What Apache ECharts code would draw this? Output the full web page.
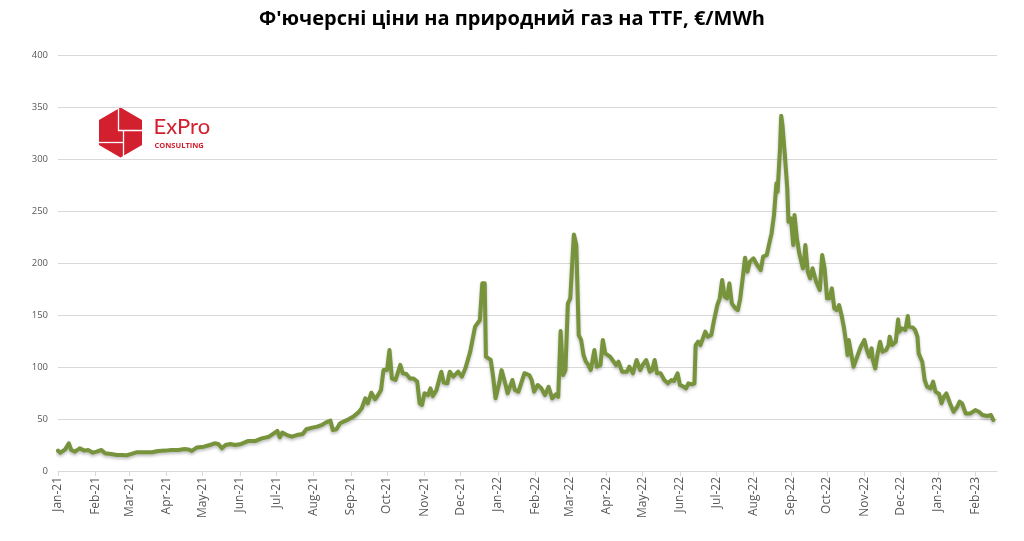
<!DOCTYPE html>
<html>
<head>
<meta charset="utf-8">
<script src="https://cdn.jsdelivr.net/npm/echarts@6/dist/echarts.min.js"></script>
<style>
html,body{margin:0;padding:0;background:#fff;}
#chart{width:1024px;height:541px;}
</style>
</head>
<body>
<div id="chart"></div>
<script>
const chartTitle = "Ф'ючерсні ціни на природний газ на TTF, €/MWh";
const monthNames = ['Jan','Feb','Mar','Apr','May','Jun','Jul','Aug','Sep','Oct','Nov','Dec'];
const yTicks = [0, 50, 100, 150, 200, 250, 300, 350, 400];

const dates2021 = [
'2021-01-01','2021-01-03','2021-01-07','2021-01-10','2021-01-12','2021-01-15','2021-01-19','2021-01-23','2021-01-26','2021-01-30',
'2021-02-02','2021-02-06','2021-02-09','2021-02-14','2021-02-19','2021-02-23','2021-02-27',
'2021-03-03','2021-03-07','2021-03-14','2021-03-20','2021-03-25','2021-03-31',
'2021-04-05','2021-04-11','2021-04-16','2021-04-19','2021-04-22','2021-04-26',
'2021-05-02','2021-05-07','2021-05-11','2021-05-14','2021-05-17','2021-05-20','2021-05-24','2021-05-28',
'2021-06-02','2021-06-08','2021-06-14','2021-06-19','2021-06-25','2021-06-29',
'2021-07-02','2021-07-04','2021-07-06','2021-07-10','2021-07-14','2021-07-18','2021-07-23','2021-07-26','2021-07-31',
'2021-08-04','2021-08-08','2021-08-11','2021-08-15','2021-08-17','2021-08-20','2021-08-23','2021-08-29',
'2021-09-03','2021-09-07','2021-09-10','2021-09-13','2021-09-15','2021-09-18','2021-09-21','2021-09-23','2021-09-26','2021-09-28',
'2021-10-01','2021-10-03','2021-10-05','2021-10-08','2021-10-12','2021-10-14','2021-10-17','2021-10-20','2021-10-23','2021-10-26','2021-10-28','2021-10-30',
'2021-11-01','2021-11-04','2021-11-06','2021-11-08','2021-11-11','2021-11-15','2021-11-17','2021-11-20','2021-11-22','2021-11-25','2021-11-29',
'2021-12-02','2021-12-05','2021-12-09','2021-12-13','2021-12-15','2021-12-17','2021-12-19','2021-12-21','2021-12-22','2021-12-26','2021-12-28','2021-12-30'
];
const prices2021 = [
19.6,17.6,20.8,26.6,20.2,18.6,21.8,19.6,20.2,17.6,
18.6,20.2,17.0,16.4,15.4,15.4,15.1,
16.4,18.0,18.0,18.0,19.3,19.6,
20.2,20.2,21.2,20.8,19.3,22.5,
23.4,25.0,26.6,26.0,21.8,25.0,26.0,25.0,
26.0,28.9,28.9,31.4,33.0,36.2,
38.5,32.4,36.9,34.6,33.0,34.6,35.6,40.1,41.7,
42.7,44.3,46.5,48.4,39.4,40.1,45.9,49.1,
52.3,56.1,60.3,69.9,65.1,75.3,68.9,72.1,77.9,97.0,
97.0,116.4,89.0,87.5,102.0,94.0,93.3,89.0,89.0,86.0,65.0,63.5,
74.7,73.0,79.5,72.0,78.0,95.5,85.0,84.3,95.5,90.7,95.5,
90.7,98.8,114.8,138.8,142.0,145.0,180.5,180.5,110.0,106.8,90.7,70.0
];

const dates2022 = [
'2022-01-02','2022-01-04','2022-01-07','2022-01-09','2022-01-13','2022-01-15','2022-01-18','2022-01-23','2022-01-27','2022-01-29','2022-01-31',
'2022-02-03','2022-02-06','2022-02-09','2022-02-12','2022-02-15','2022-02-18','2022-02-20','2022-02-22','2022-02-24','2022-02-26','2022-02-28',
'2022-03-02','2022-03-04','2022-03-05','2022-03-07','2022-03-09','2022-03-11','2022-03-13','2022-03-15','2022-03-17','2022-03-19','2022-03-22','2022-03-24','2022-03-27','2022-03-29','2022-03-31',
'2022-04-04','2022-04-09','2022-04-11','2022-04-14','2022-04-18','2022-04-20','2022-04-23','2022-04-26','2022-04-29',
'2022-05-01','2022-05-04','2022-05-07','2022-05-09','2022-05-11','2022-05-13','2022-05-16','2022-05-19','2022-05-22','2022-05-25','2022-05-27','2022-05-30',
'2022-06-01','2022-06-04','2022-06-06','2022-06-08','2022-06-11','2022-06-13','2022-06-14','2022-06-16','2022-06-18','2022-06-20','2022-06-22','2022-06-24','2022-06-27','2022-06-29',
'2022-07-02','2022-07-04','2022-07-06','2022-07-08','2022-07-10','2022-07-12','2022-07-14','2022-07-17','2022-07-19','2022-07-21','2022-07-23','2022-07-25','2022-07-27','2022-07-29',
'2022-08-01','2022-08-04','2022-08-07','2022-08-09','2022-08-12','2022-08-15','2022-08-16','2022-08-18','2022-08-20','2022-08-21','2022-08-23','2022-08-24','2022-08-25','2022-08-27','2022-08-29','2022-08-30',
'2022-09-01','2022-09-03','2022-09-04','2022-09-06','2022-09-08','2022-09-09','2022-09-11','2022-09-12','2022-09-13','2022-09-15','2022-09-17','2022-09-19','2022-09-22','2022-09-25','2022-09-27','2022-09-29',
'2022-10-01','2022-10-03','2022-10-05','2022-10-07','2022-10-09','2022-10-11','2022-10-13','2022-10-15','2022-10-17','2022-10-18','2022-10-19','2022-10-21','2022-10-23','2022-10-26','2022-10-29',
'2022-11-01','2022-11-03','2022-11-05','2022-11-07','2022-11-08','2022-11-10','2022-11-12','2022-11-14','2022-11-16','2022-11-19','2022-11-21','2022-11-22','2022-11-24','2022-11-27','2022-11-29','2022-11-30',
'2022-12-02','2022-12-05','2022-12-07','2022-12-08','2022-12-11','2022-12-13','2022-12-15','2022-12-16','2022-12-19','2022-12-21','2022-12-23','2022-12-26','2022-12-28','2022-12-30'
];
const prices2022 = [
84.3,97.0,84.3,74.7,87.5,78.0,76.3,94.0,92.3,87.5,76.3,
82.7,79.5,73.0,81.0,69.8,73.7,71.4,134.6,92.3,97.1,161.2,
166.0,207.7,227.5,217.3,130.7,126.0,111.5,105.1,101.9,97.1,116.3,100.3,101.9,126.0,113.1,
110.0,101.9,105.1,95.5,95.5,100.3,93.9,106.7,97.1,
101.9,106.7,95.5,97.1,106.7,93.9,93.9,87.5,84.3,87.5,86.5,93.9,
82.7,81.1,79.5,84.3,83.3,84.3,121.0,124.3,121.1,127.5,134.0,129.2,130.8,143.6,
159.6,166.0,183.6,167.6,166.0,180.4,161.2,156.4,154.8,166.0,185.2,205.1,191.7,201.3,
204.5,198.1,193.2,206.1,207.7,223.7,228.5,246.1,276.6,268.6,310.2,341.6,332.7,303.8,271.8,239.7,
242.9,217.3,246.1,223.7,209.3,204.5,194.9,201.3,217.3,191.7,185.2,194.9,182.0,174.0,207.7,194.9,
166.0,166.0,175.6,156.4,154.8,159.6,150.0,138.0,122.0,111.5,126.0,113.1,100.3,110.0,119.5,
126.0,116.3,110.0,117.9,106.7,98.7,113.1,124.3,114.7,116.3,121.1,129.2,121.1,124.3,145.8,134.0,
137.2,135.6,149.0,138.8,138.1,135.6,129.2,113.1,105.1,87.5,81.1,79.5,85.9,76.3
];

const dates2023 = [
'2023-01-02','2023-01-04','2023-01-06','2023-01-08','2023-01-11','2023-01-14','2023-01-17','2023-01-19','2023-01-21','2023-01-24','2023-01-28',
'2023-02-01','2023-02-04','2023-02-07','2023-02-11','2023-02-14','2023-02-16'
];
const prices2023 = [
74.0,65.1,71.5,74.7,65.1,57.0,61.8,66.7,65.1,55.4,55.4,
58.6,57.0,53.8,52.9,53.8,49.0
];

const allDates = dates2021.concat(dates2022, dates2023);
const allPrices = prices2021.concat(prices2022, prices2023);
const seriesData = allDates.map((d, i) => [d, allPrices[i]]);

const red = '#d2202f';
const chart = echarts.init(document.getElementById('chart'), null, {renderer: 'canvas'});
chart.setOption({
  animation: false,
  backgroundColor: '#ffffff',
  textStyle: {fontFamily: 'Open Sans'},
  title: {
    text: chartTitle,
    left: 'center',
    top: 4,
    textStyle: {fontFamily: 'Open Sans', fontWeight: 'bold', fontSize: 20, color: '#000000'}
  },
  grid: {left: 58, right: 27, top: 55, bottom: 70, containLabel: false},
  xAxis: {
    type: 'time',
    min: '2021-01-01',
    max: '2023-02-19',
    minInterval: 28 * 86400000,
    maxInterval: 31 * 86400000,
    axisLine: {show: true, lineStyle: {color: '#d9d9d9', width: 1}},
    axisTick: {show: true, length: 5, lineStyle: {color: '#d9d9d9'}},
    splitLine: {show: false},
    axisLabel: {
      rotate: 90,
      fontSize: 12,
      color: '#595959',
      margin: 6,
      showMaxLabel: false,
      formatter: function (val) {
        const d = new Date(val);
        return monthNames[d.getMonth()] + '-' + String(d.getFullYear()).slice(2);
      }
    }
  },
  yAxis: {
    type: 'value',
    min: yTicks[0],
    max: yTicks[yTicks.length - 1],
    interval: 50,
    axisLine: {show: false},
    axisTick: {show: false},
    splitLine: {lineStyle: {color: '#d9d9d9', width: 1}},
    axisLabel: {fontSize: 9.5, color: '#595959', margin: 10}
  },
  series: [{
    type: 'line',
    data: seriesData,
    showSymbol: false,
    smooth: false,
    lineStyle: {color: '#77933c', width: 4, shadowColor: 'rgba(0,0,0,0.25)', shadowBlur: 3, shadowOffsetY: 2, cap: 'round', join: 'round'}
  }],
  graphic: [{
    type: 'group',
    left: 96,
    top: 106,
    children: [
      {type: 'polygon', shape: {points: [[22,0],[43.5,12.5],[43.5,37.5],[22,50],[0.5,37.5],[0.5,12.5]]}, style: {fill: red}},
      {type: 'polyline', shape: {points: [[20,1],[20,23],[44,23]]}, style: {stroke: '#fff', lineWidth: 1.3, fill: null}},
      {type: 'polyline', shape: {points: [[25,23],[25,50]]}, style: {stroke: '#fff', lineWidth: 1.3, fill: null}},
      {type: 'polyline', shape: {points: [[0,35],[25,35]]}, style: {stroke: '#fff', lineWidth: 1.3, fill: null}},
      {type: 'text', x: 55, y: 8, style: {text: 'ExPro', fill: red, font: '400 22px Lato', letterSpacing: 5}},
      {type: 'text', x: 56, y: 34, style: {text: 'CONSULTING', fill: red, font: 'bold 7.5px "Open Sans"'}}
    ]
  }]
});
</script>
</body>
</html>
